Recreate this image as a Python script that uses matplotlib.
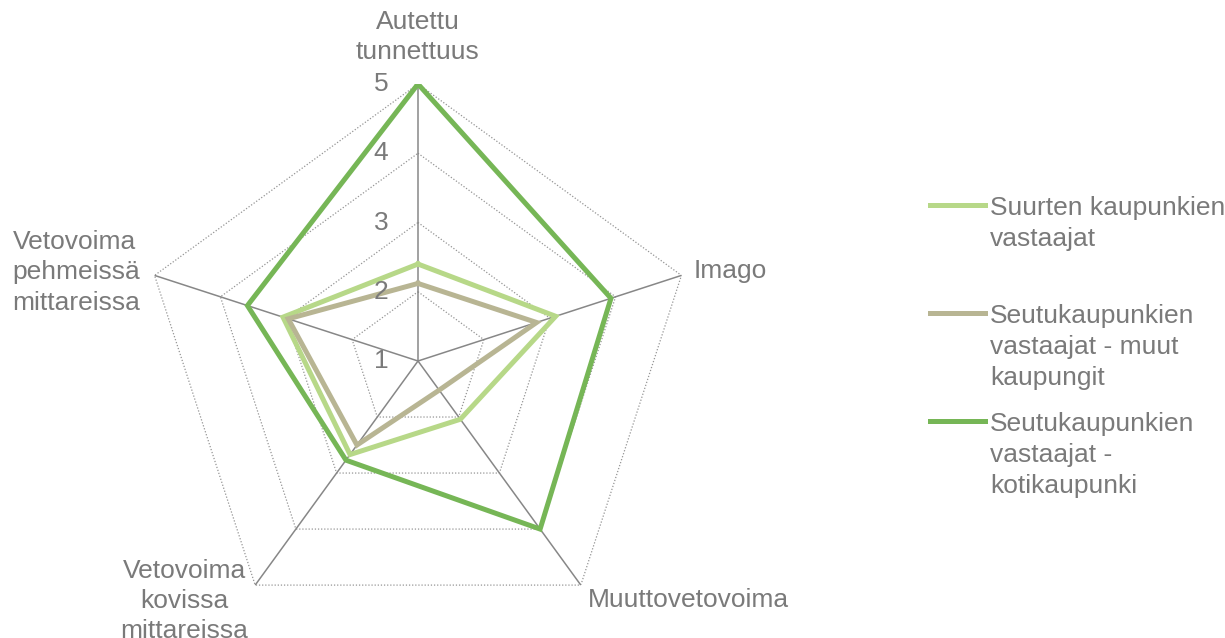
import numpy as np
import matplotlib.pyplot as plt
from matplotlib.lines import Line2D

# data
categories = ['Autettu\ntunnettuus', 'Imago', 'Muuttovetovoima',
              'Vetovoima\nkovissa\nmittareissa',
              'Vetovoima\npehmeissä\nmittareissa']
series_names = ['Suurten kaupunkien\nvastaajat',
                'Seutukaupunkien\nvastaajat - muut\nkaupungit',
                'Seutukaupunkien\nvastaajat -\nkotikaupunki']
suurten = [2.40, 3.09, 2.04, 2.67, 3.05]
muut = [2.12, 2.80, 1.52, 2.50, 2.97]
koti = [5.00, 3.93, 4.00, 2.77, 3.59]
ticks = [1, 2, 3, 4, 5]

colors = ['#b7d888', '#b8b593', '#76b656']
text_color = '#7a7a7a'
plt.rcParams['font.family'] = ['Liberation Sans', 'DejaVu Sans']
FS = 19

W, H = 1225, 638
fig = plt.figure(figsize=(W / 100, H / 100), dpi=100)
cx, cy, R = 418, 361, 277
ax = fig.add_axes([(cx - R) / W, (H - cy - R) / H, 2 * R / W, 2 * R / H],
                  projection='polar')
ax.set_theta_zero_location('N')
ax.set_theta_direction(-1)
ax.set_ylim(ticks[0], ticks[-1])
ax.grid(False)
ax.set_xticks([])
ax.set_yticks([])
ax.spines['polar'].set_visible(False)
ax.patch.set_alpha(0)

n = len(categories)
angles = [2 * np.pi * i / n for i in range(n)]
closed = angles + angles[:1]

# pentagon grid
for t in ticks[1:]:
    ax.plot(closed, [t] * (n + 1), color='#959595', lw=0.9,
            ls=(0, (1, 1.5)), zorder=1)
for a in angles:
    ax.plot([a, a], [ticks[0], ticks[-1]], color='#878787', lw=1.1, zorder=1)

# series
for vals, col in zip([suurten, muut, koti], colors):
    ax.plot(closed, vals + vals[:1], color=col, lw=3.6, zorder=3,
            solid_joinstyle='miter')

# radial tick labels
for t in ticks:
    ax.annotate(str(t), xy=(0, t), xytext=(-37, 0), textcoords='offset pixels',
                ha='center', va='center', fontsize=FS, color=text_color)

# category labels
offsets = [(0, 20, 'center', 'bottom', 'center'),
           (12, 4, 'left', 'center', 'left'),
           (7, -15, 'left', 'center', 'left'),
           (-7, -16, 'right', 'center', 'center'),
           (-14, 3, 'right', 'center', 'left')]
for a, lab, (dx, dy, ha, va, ma) in zip(angles, categories, offsets):
    ax.annotate(lab, xy=(a, ticks[-1]), xytext=(dx, dy),
                textcoords='offset pixels', ha=ha, va=va, multialignment=ma,
                fontsize=FS, color=text_color, linespacing=1.33,
                annotation_clip=False)

# legend drawn by hand to keep handle on the first text line
leg_y = [205, 313, 421]
for name, col, y in zip(series_names, colors, leg_y):
    fig.add_artist(Line2D([930 / W, 985 / W], [1 - y / H, 1 - y / H],
                          color=col, lw=3.6))
    fig.text(990 / W, 1 - (y - 9) / H, name, ha='left', va='top',
             fontsize=FS, color=text_color, linespacing=1.36)

fig.savefig('out.png', dpi=100)
